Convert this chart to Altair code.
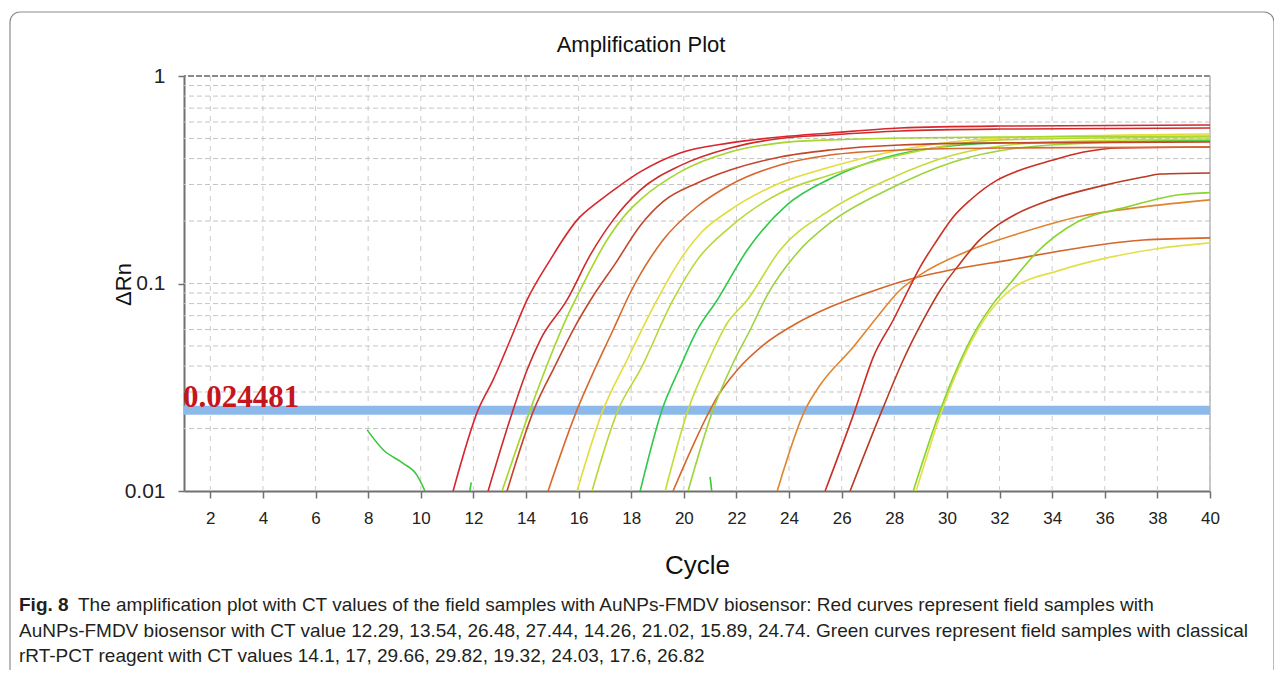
import altair as alt
import pandas as pd

# ---------------- data ----------------
A_cycle = [11.23, 12.18, 12.75, 13.40, 14.04, 14.92, 15.94, 16.82, 17.46, 18.34, 19.86, 21.76, 23.66, 25.56, 28.22, 32.03, 40.0]
A_drn = [0.0100, 0.0246, 0.0343, 0.0534, 0.0833, 0.130, 0.202, 0.252, 0.290, 0.345, 0.426, 0.476, 0.508, 0.531, 0.562, 0.574, 0.581]

B_cycle = [12.56, 13.51, 14.04, 14.54, 15.56, 16.44, 17.31, 18.34, 19.86, 21.76, 23.66, 25.56, 28.22, 32.03, 40.0]
B_drn = [0.0100, 0.0246, 0.0383, 0.0534, 0.0833, 0.137, 0.202, 0.282, 0.370, 0.450, 0.500, 0.520, 0.543, 0.555, 0.562]

C1_cycle = [13.09, 14.16, 14.92, 15.56, 16.06, 17.08, 17.84, 18.34, 19.86, 21.76, 23.66, 25.56, 28.22, 32.03, 40.0]
C1_drn = [0.0100, 0.0246, 0.0442, 0.0690, 0.0930, 0.162, 0.219, 0.253, 0.345, 0.430, 0.476, 0.492, 0.503, 0.508, 0.514]

C2_cycle = [13.28, 14.30, 15.10, 15.80, 16.55, 17.40, 18.34, 19.21, 20.51, 21.76, 23.66, 25.56, 28.22, 32.03, 40.0]
C2_drn = [0.0100, 0.0246, 0.0400, 0.0600, 0.0870, 0.125, 0.190, 0.248, 0.305, 0.352, 0.407, 0.440, 0.465, 0.476, 0.481]

D_cycle = [14.84, 15.94, 16.55, 17.31, 17.96, 19.21, 20.51, 21.76, 23.66, 25.56, 28.22, 32.03, 40.0]
D_drn = [0.0100, 0.0246, 0.0371, 0.0597, 0.0900, 0.162, 0.235, 0.2985, 0.3725, 0.416, 0.440, 0.450, 0.455]

E_cycle = [15.94, 16.93, 17.84, 18.34, 18.98, 19.86, 20.70, 21.76, 23.66, 25.56, 28.22, 32.03, 40.0]
E_drn = [0.0100, 0.0246, 0.0428, 0.0577, 0.0833, 0.130, 0.178, 0.226, 0.305, 0.364, 0.440, 0.503, 0.525]

F_cycle = [16.51, 17.50, 18.34, 19.59, 20.51, 21.76, 23.66, 25.56, 28.22, 32.03, 40.0]
F_drn = [0.0100, 0.0246, 0.0383, 0.0833, 0.130, 0.187, 0.273, 0.3335, 0.416, 0.492, 0.508]

G_cycle = [18.34, 19.17, 19.86, 20.51, 21.27, 22.41, 23.93, 25.56, 27.73, 28.98, 32.03, 40.0]
G_drn = [0.0100, 0.0246, 0.0396, 0.0597, 0.0833, 0.145, 0.240, 0.320, 0.407, 0.440, 0.476, 0.486]

H_cycle = [19.29, 20.16, 21.00, 21.65, 22.41, 23.66, 25.56, 27.73, 30.24, 33.93, 40.0]
H_drn = [0.0100, 0.0246, 0.0442, 0.0645, 0.0833, 0.145, 0.226, 0.3155, 0.416, 0.481, 0.497]

J_cycle = [20.16, 21.11, 21.87, 22.52, 23.17, 24.30, 25.56, 27.73, 30.24, 33.93, 40.0]
J_drn = [0.0100, 0.0246, 0.0414, 0.0597, 0.0880, 0.140, 0.196, 0.282, 0.385, 0.465, 0.492]

I_cycle = [19.59, 21.00, 21.27, 22.03, 23.02, 24.31, 25.56, 27.08, 28.22, 30.13, 32.41, 34.95, 37.46, 40.0]
I_drn = [0.0100, 0.0246, 0.0284, 0.0383, 0.0505, 0.0645, 0.0770, 0.0910, 0.1017, 0.1162, 0.130, 0.148, 0.162, 0.166]

K_cycle = [23.55, 24.61, 25.18, 26.44, 27.35, 28.22, 28.98, 30.89, 32.79, 34.95, 37.46, 40.0]
K_drn = [0.0100, 0.0246, 0.0324, 0.0494, 0.0690, 0.0930, 0.110, 0.145, 0.175, 0.209, 0.234, 0.253]

R1_cycle = [25.37, 26.51, 27.20, 27.96, 28.53, 28.98, 29.63, 30.24, 30.89, 31.91, 32.60, 33.93, 35.20, 36.50, 40.0]
R1_drn = [0.0100, 0.0246, 0.0442, 0.0667, 0.0930, 0.120, 0.162, 0.209, 0.2526, 0.315, 0.345, 0.390, 0.430, 0.450, 0.455]

R2_cycle = [26.32, 27.54, 28.34, 29.10, 29.75, 30.50, 31.20, 31.90, 32.60, 33.93, 35.56, 37.46, 38.11, 40.0]
R2_drn = [0.0100, 0.0246, 0.0428, 0.0667, 0.0930, 0.125, 0.160, 0.190, 0.215, 0.2526, 0.289, 0.326, 0.337, 0.341]

L_cycle = [28.72, 29.75, 30.24, 30.89, 31.76, 32.40, 33.43, 34.95, 36.86, 38.76, 40.0]
L_drn = [0.0100, 0.0246, 0.0354, 0.0534, 0.0800, 0.100, 0.142, 0.198, 0.234, 0.267, 0.274]

M_cycle = [28.83, 29.82, 30.30, 30.96, 31.84, 32.41, 34.31, 36.21, 38.11, 40.0]
M_drn = [0.0100, 0.0246, 0.0354, 0.0534, 0.0790, 0.0930, 0.116, 0.134, 0.148, 0.157]

N1_cycle = [7.96, 8.57, 9.33, 9.86, 10.16]
N1_drn = [0.0197, 0.0158, 0.0136, 0.0119, 0.0100]
N2_cycle = [11.86, 11.92]
N2_drn = [0.0100, 0.0110]
N3_cycle = [21.00, 21.06]
N3_drn = [0.0117, 0.0100]

curve_names = ["N1", "N2", "N3", "I", "K", "R2", "M", "L", "R1",
               "J", "H", "G", "F", "E", "D", "C2", "C1", "B", "A"]
curve_colors = ["#3cc83c", "#3cc83c", "#3cc83c", "#d4662a", "#e0842e", "#b93a22", "#e2e04a", "#8ad42e", "#cc2e24",
                "#9cd43c", "#c4dc3a", "#2ec94a", "#b6d836", "#e5dc38", "#d9682c", "#c4452a", "#a4d62c", "#cf2b2b", "#d8262c"]
curve_widths = [1.6, 1.6, 1.6, 1.6, 1.6, 1.6, 1.8, 1.8, 1.6,
                1.6, 1.6, 1.8, 1.6, 1.6, 1.6, 1.6, 2.6, 1.6, 1.6]

curves = {
    "A": (A_cycle, A_drn), "B": (B_cycle, B_drn), "C1": (C1_cycle, C1_drn), "C2": (C2_cycle, C2_drn),
    "D": (D_cycle, D_drn), "E": (E_cycle, E_drn), "F": (F_cycle, F_drn), "G": (G_cycle, G_drn),
    "H": (H_cycle, H_drn), "J": (J_cycle, J_drn), "I": (I_cycle, I_drn), "K": (K_cycle, K_drn),
    "R1": (R1_cycle, R1_drn), "R2": (R2_cycle, R2_drn), "L": (L_cycle, L_drn), "M": (M_cycle, M_drn),
    "N1": (N1_cycle, N1_drn), "N2": (N2_cycle, N2_drn), "N3": (N3_cycle, N3_drn),
}

x_ticks = list(range(2, 41, 2))
y_ticks = [0.01, 0.1, 1]
grid_y = [0.02, 0.03, 0.04, 0.05, 0.06, 0.07, 0.08, 0.09, 0.1,
          0.2, 0.3, 0.4, 0.5, 0.6, 0.7, 0.8, 0.9]
top_value = [1]
right_value = [40]
threshold = [0.024481]
threshold_label = ["0.024481"]

title_text = "Amplification Plot"
x_title = "Cycle"
y_title = "ΔRn"
cap_fig = "Fig. 8"
cap_line1 = "The amplification plot with CT values of the field samples with AuNPs-FMDV biosensor: Red curves represent field samples with"
cap_line2 = "AuNPs-FMDV biosensor with CT value 12.29, 13.54, 26.48, 27.44, 14.26, 21.02, 15.89, 24.74. Green curves represent field samples with classical"
cap_line3 = "rRT-PCT reagent with CT values 14.1, 17, 29.66, 29.82, 19.32, 24.03, 17.6, 26.82"

rows = []
for name in curve_names:
    cyc, val = curves[name]
    for c, v in zip(cyc, val):
        rows.append({"curve": name, "cycle": c, "dRn": v})
df = pd.DataFrame(rows)

# ---------------- chart ----------------
W, H = 1026, 415
SANS = "Liberation Sans, Arial, sans-serif"

x_scale = alt.Scale(domain=[1, 40], nice=False, zero=False)
y_scale = alt.Scale(type="log", domain=[0.01, 1], nice=False)

x_axis = alt.Axis(values=x_ticks, title=x_title, grid=False, labelFont=SANS, labelFontSize=17,
                  labelColor="#222222", labelPadding=12, tickSize=7, tickColor="#707070", tickWidth=1.5,
                  domainColor="#707070", domainWidth=2, labelFlush=False, labelOverlap=False,
                  titleFont=SANS, titleFontSize=26, titleFontWeight="normal", titleColor="#111111",
                  titleY=74, titleBaseline="middle")
y_axis = alt.Axis(values=y_ticks, title=y_title, grid=False,
                  labelExpr="datum.value >= 1 ? '1' : (datum.value >= 0.1 ? '0.1' : '0.01')",
                  labelFont=SANS, labelFontSize=21, labelColor="#222222", labelPadding=13,
                  tickSize=6, tickColor="#707070", tickWidth=1.5, domainColor="#707070", domainWidth=2,
                  labelFlush=False, labelOverlap=False,
                  titleFont=SANS, titleFontSize=22, titleFontWeight="normal", titleColor="#111111",
                  titleAngle=270, titleX=-61, titleY=208, titleAlign="center", titleBaseline="middle")

one = pd.DataFrame({"k": [0]})

border = alt.Chart(one).mark_rect(filled=False, color="#8c8c8c", strokeWidth=1.2, cornerRadius=10).encode(
    x=alt.value(-174), x2=alt.value(1090), y=alt.value(-64), y2=alt.value(660))

vgrid = alt.Chart(pd.DataFrame({"cycle": x_ticks})).mark_rule(color="#cccccc", strokeDash=[5, 5], strokeWidth=1).encode(
    x=alt.X("cycle:Q", scale=x_scale, axis=x_axis))
hgrid = alt.Chart(pd.DataFrame({"dRn": grid_y})).mark_rule(color="#c4c4c4", strokeDash=[5, 3], strokeWidth=1).encode(
    y=alt.Y("dRn:Q", scale=y_scale, axis=y_axis))
top_rule = alt.Chart(pd.DataFrame({"dRn": top_value})).mark_rule(color="#8a8a8a", strokeDash=[6, 2], strokeWidth=2).encode(
    y=alt.Y("dRn:Q", scale=y_scale, axis=y_axis))
right_rule = alt.Chart(pd.DataFrame({"cycle": right_value})).mark_rule(color="#b8b8b8", strokeWidth=1.5).encode(
    x=alt.X("cycle:Q", scale=x_scale, axis=x_axis))

thr_rule = alt.Chart(pd.DataFrame({"dRn": threshold})).mark_rule(color="#8db8ea", strokeWidth=9).encode(
    y=alt.Y("dRn:Q", scale=y_scale, axis=y_axis))

lines = alt.Chart(df).mark_line(interpolate="monotone", clip=True).encode(
    x=alt.X("cycle:Q", scale=x_scale, axis=x_axis),
    y=alt.Y("dRn:Q", scale=y_scale, axis=y_axis),
    color=alt.Color("curve:N", scale=alt.Scale(domain=curve_names, range=curve_colors), legend=None),
    size=alt.Size("curve:N", scale=alt.Scale(domain=curve_names, range=curve_widths), legend=None),
)

thr_text = alt.Chart(pd.DataFrame({"dRn": threshold, "lab": threshold_label})).mark_text(
    font="Liberation Serif, Times New Roman, serif", fontSize=31, fontWeight="bold", color="#c4161c",
    align="left", baseline="alphabetic", dy=-3).encode(
    x=alt.value(-1), y=alt.Y("dRn:Q", scale=y_scale, axis=y_axis), text="lab:N")

title = alt.Chart(one).mark_text(text=title_text, font=SANS, fontSize=22, color="#111111",
                                 align="center", baseline="middle").encode(x=alt.value(457), y=alt.value(-31))

cap_style = dict(font=SANS, fontSize=19, color="#231f20", align="left", baseline="middle")
cap0 = alt.Chart(one).mark_text(text=cap_fig, fontWeight="bold", **cap_style).encode(x=alt.value(-165), y=alt.value(529))
cap1 = alt.Chart(one).mark_text(text=cap_line1, **cap_style).encode(x=alt.value(-106), y=alt.value(529))
cap2 = alt.Chart(one).mark_text(text=cap_line2, **cap_style).encode(x=alt.value(-165), y=alt.value(555))
cap3 = alt.Chart(one).mark_text(text=cap_line3, **cap_style).encode(x=alt.value(-165), y=alt.value(580))

chart = alt.layer(
    border, vgrid, hgrid, top_rule, right_rule, thr_rule, lines, thr_text, title, cap0, cap1, cap2, cap3
).properties(
    width=W, height=H,
    padding={"left": 176, "top": 68, "right": 64, "bottom": 179},
    autosize=alt.AutoSizeParams(type="none"),
    background="white",
).configure_view(stroke=None)

chart.save("out.html", embed_options={"renderer": "svg", "actions": False})
